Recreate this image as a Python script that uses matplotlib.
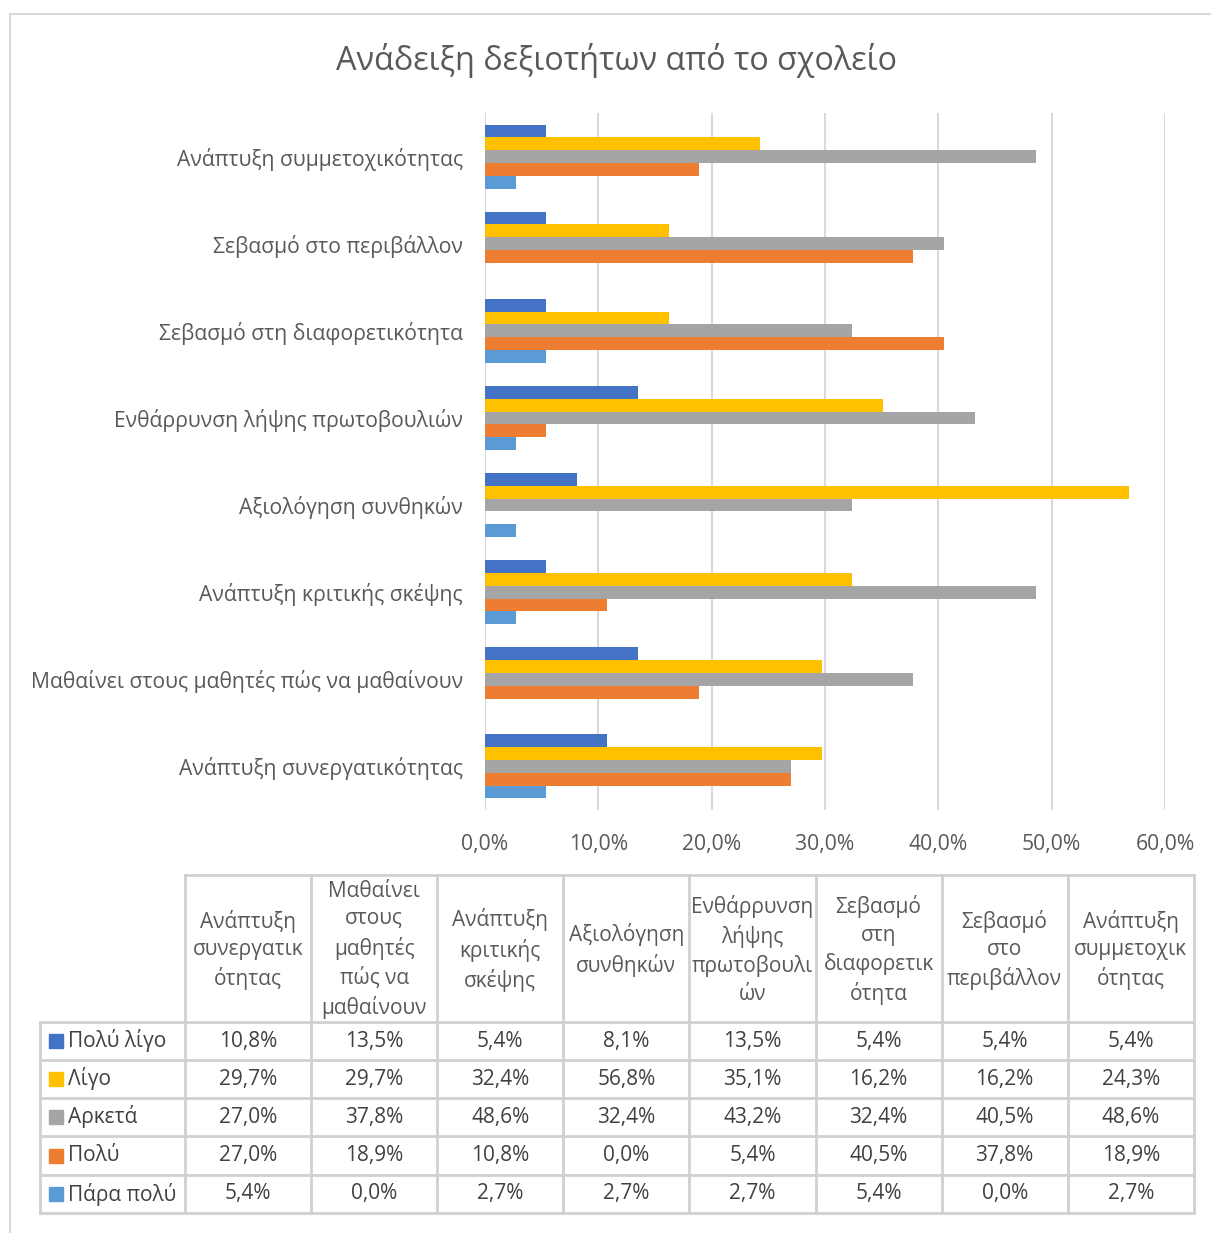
import numpy as np
import matplotlib.pyplot as plt
from matplotlib.patches import Rectangle

plt.rcParams['font.family'] = ['Open Sans', 'DejaVu Sans']

# categories, bottom to top in the chart (= table column order)
categories = ["Ανάπτυξη συνεργατικότητας",
              "Μαθαίνει στους μαθητές πώς να μαθαίνουν",
              "Ανάπτυξη κριτικής σκέψης",
              "Αξιολόγηση συνθηκών",
              "Ενθάρρυνση λήψης πρωτοβουλιών",
              "Σεβασμό στη διαφορετικότητα",
              "Σεβασμό στο περιβάλλον",
              "Ανάπτυξη συμμετοχικότητας"]
header_labels = ["Ανάπτυξη\nσυνεργατικ\nότητας",
                 "Μαθαίνει\nστους\nμαθητές\nπώς να\nμαθαίνουν",
                 "Ανάπτυξη\nκριτικής\nσκέψης",
                 "Αξιολόγηση\nσυνθηκών",
                 "Ενθάρρυνση\nλήψης\nπρωτοβουλι\nών",
                 "Σεβασμό\nστη\nδιαφορετικ\nότητα",
                 "Σεβασμό\nστο\nπεριβάλλον",
                 "Ανάπτυξη\nσυμμετοχικ\nότητας"]

series_names = ["Πολύ λίγο", "Λίγο", "Αρκετά", "Πολύ", "Πάρα πολύ"]
colors = ["#4472C4", "#FFC000", "#A5A5A5", "#ED7D31", "#5B9BD5"]

poly_ligo = [10.8, 13.5, 5.4, 8.1, 13.5, 5.4, 5.4, 5.4]
ligo = [29.7, 29.7, 32.4, 56.8, 35.1, 16.2, 16.2, 24.3]
arketa = [27.0, 37.8, 48.6, 32.4, 43.2, 32.4, 40.5, 48.6]
poly = [27.0, 18.9, 10.8, 0.0, 5.4, 40.5, 37.8, 18.9]
para_poly = [5.4, 0.0, 2.7, 2.7, 2.7, 5.4, 0.0, 2.7]
values = [poly_ligo, ligo, arketa, poly, para_poly]

W, H = 1211, 1233
fig = plt.figure(figsize=(W / 100, H / 100), dpi=100)

# overlay in pixel coordinates for the frame and the data table
tax = fig.add_axes([0, 0, 1, 1], zorder=0)
tax.set_xlim(0, W)
tax.set_ylim(H, 0)
tax.axis('off')
grid_c = "#D9D9D9"
tax.plot([10, 10], [14, H], color=grid_c, lw=1.5)
tax.plot([10, W], [14, 14], color=grid_c, lw=1.5)

tax.text(617, 60, "Ανάδειξη δεξιοτήτων από το σχολείο", ha='center', va='center',
         fontsize=23.3, color="#595959")

# bar chart
ax = fig.add_axes([485 / W, 1 - 810 / H, 680 / W, 697 / H], zorder=1)
ax.patch.set_alpha(0)
h = 0.147
y = np.arange(len(categories))
for j, (name, vals, c) in enumerate(zip(series_names, values, colors)):
    ax.barh(y + (2 - j) * h, vals, height=h, color=c, zorder=2)
ax.set_xlim(0, 60)
ax.set_ylim(-0.5, len(categories) - 0.5)
ax.set_xticks(np.arange(0, 61, 10))
ax.set_xticklabels([f"{v:.1f}%".replace('.', ',') for v in np.arange(0, 61, 10)])
ax.set_yticks(y)
ax.set_yticklabels(categories)
ax.grid(axis='x', color=grid_c, lw=1.5, zorder=0)
for s in ax.spines.values():
    s.set_visible(False)
ax.tick_params(length=0, labelsize=15.2, labelcolor="#595959")
ax.tick_params(axis='x', pad=17)
ax.tick_params(axis='y', pad=16)

# data table
col_x = [185 + 126.1 * i for i in range(9)]
row_y = [875, 1022, 1060, 1098, 1136, 1175, 1213]
tcol = "#D0D0D0"
tc = "#404040"
fs = 15
for xv in col_x:
    tax.plot([xv, xv], [row_y[0], row_y[-1]], color=tcol, lw=2)
tax.plot([col_x[0], col_x[-1]], [row_y[0], row_y[0]], color=tcol, lw=2)
for yv in row_y[1:]:
    tax.plot([40, col_x[-1]], [yv, yv], color=tcol, lw=2)
tax.plot([40, 40], [row_y[1], row_y[-1]], color=tcol, lw=2)

for i, lab in enumerate(header_labels):
    cx = (col_x[i] + col_x[i + 1]) / 2
    tax.text(cx, 950, lab, ha='center', va='center', fontsize=fs, color="#595959",
             linespacing=1.41)

for j, (name, vals, c) in enumerate(zip(series_names, values, colors)):
    cy = (row_y[j + 1] + row_y[j + 2]) / 2
    tax.add_patch(Rectangle((49, cy - 7), 14, 14, color=c))
    tax.text(68, cy, name, ha='left', va='center', fontsize=fs, color=tc)
    for i, v in enumerate(vals):
        cx = (col_x[i] + col_x[i + 1]) / 2
        tax.text(cx, cy, f"{v:.1f}%".replace('.', ','), ha='center', va='center',
                 fontsize=fs, color=tc)

fig.savefig("out.png", dpi=100)
